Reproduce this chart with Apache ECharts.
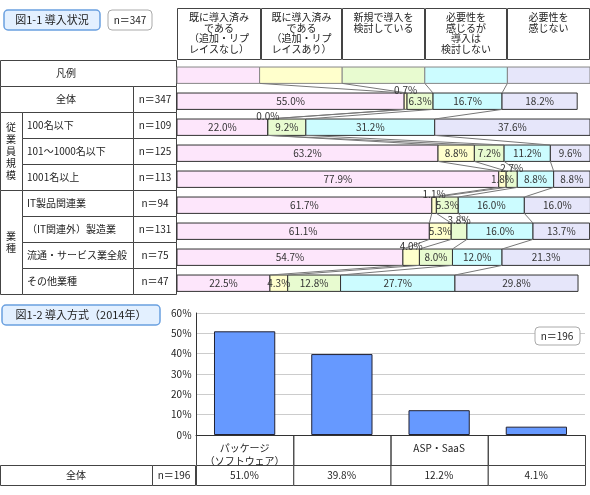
<!DOCTYPE html>
<html><head><meta charset="utf-8">
<script src="https://cdn.jsdelivr.net/npm/echarts@6/dist/echarts.min.js"></script>
<style>html,body{margin:0;padding:0;background:#fff}#c{width:590px;height:495px}</style>
</head><body><div id="c"></div>
<script>
const headers = ['既に導入済み\nである\n（追加・リプ\nレイスなし）','既に導入済み\nである\n（追加・リプ\nレイスあり）','新規で導入を\n検討している','必要性を\n感じるが\n導入は\n検討しない','必要性を\n感じない'];
const rows = ['凡例','全体','100名以下','101～1000名以下','1001名以上','IT製品関連業','（IT関連外）製造業','流通・サービス業全般','その他業種'];
const nLabels = ['','n＝347','n＝109','n＝125','n＝113','n＝94','n＝131','n＝75','n＝47'];
const s1 = [20, 55.0, 22.0, 63.2, 77.9, 61.7, 61.1, 54.7, 22.5];
const s2 = [20, 0.7, 0.0, 8.8, 1.8, 1.1, 5.3, 4.0, 4.3];
const s3 = [20, 6.3, 9.2, 7.2, 2.7, 5.3, 3.8, 8.0, 12.8];
const s4 = [20, 16.7, 31.2, 11.2, 8.8, 16.0, 16.0, 12.0, 27.7];
const s5 = [20, 18.2, 37.6, 9.6, 8.8, 16.0, 13.7, 21.3, 29.8];
const methods = ['パッケージ\n（ソフトウェア）','自社開発','ASP・SaaS','その他'];
const methodVals = [51.0, 39.8, 12.2, 4.1];
const yTicks = [0, 10, 20, 30, 40, 50, 60];

const colors = ['#fde6fb','#ffffcc','#e8fbd0','#ccfcff','#e6e6fa'];
const F = '"Noto Sans CJK JP", sans-serif';
const LC = '#444';
const allVals = rows.map((r,i)=>[s1[i],s2[i],s3[i],s4[i],s5[i]]);

const chart = echarts.init(document.getElementById('c'));
const g = [];
function rect(x,y,w,h,fill){g.push({type:'rect',shape:{x,y,width:w,height:h},style:{fill:fill||'#fff',stroke:LC,lineWidth:1},z:1});}
function txt(x,y,t,opt){g.push(Object.assign({type:'text',x,y,style:{text:t,font:'10px '+F,fill:'#222',textAlign:'center',textVerticalAlign:'middle'},z:5},opt||{}));}
// header
const hx=[177,261,342,425,507,590];
for(let k=0;k<5;k++){rect(hx[k]+0.5,8.5,hx[k+1]-hx[k]-1,51); g.push({type:'text',x:(hx[k]+hx[k+1])/2,y:12,style:{text:headers[k],font:'10px '+F,fill:'#222',textAlign:'center',textVerticalAlign:'top',lineHeight:10.5},z:5});}
// title boxes
g.push({type:'rect',shape:{x:4,y:10,width:96,height:20,r:4},style:{fill:'#e3f0ff',stroke:'#6aa0e0',lineWidth:1.5},z:2});
txt(52,20,'図1-1 導入状況',{style:{text:'図1-1 導入状況',font:'11px '+F,fill:'#222',textAlign:'center',textVerticalAlign:'middle'}});
g.push({type:'rect',shape:{x:108,y:10,width:44,height:20,r:4},style:{fill:'#fff',stroke:'#aaa',lineWidth:1},z:2});
txt(130,20,'n＝347');
// left table
const rh=26, t0=60;
rect(0.5,t0+0.5,176,rh); txt(66,t0+13,rows[0]);
rect(0.5,t0+rh+0.5,133,rh); txt(66,t0+rh+13,rows[1]); rect(133.5,t0+rh+0.5,43,rh); txt(155,t0+rh+13,nLabels[1]);
rect(0.5,t0+2*rh+0.5,22,3*rh); txt(11,t0+3.5*rh,'従\n業\n員\n規\n模',{style:{text:'従\n業\n員\n規\n模',font:'10px '+F,fill:'#222',textAlign:'center',textVerticalAlign:'middle',lineHeight:12}});
rect(0.5,t0+5*rh+0.5,22,4*rh); txt(11,t0+7*rh,'業\n種',{style:{text:'業\n種',font:'10px '+F,fill:'#222',textAlign:'center',textVerticalAlign:'middle',lineHeight:12}});
for(let i=2;i<9;i++){const y=t0+i*rh+0.5; rect(22.5,y,111,rh); rect(133.5,y,43,rh);
  g.push({type:'text',x:27,y:y+13,style:{text:rows[i],font:'10px '+F,fill:'#222',textAlign:'left',textVerticalAlign:'middle'},z:5});
  txt(155,y+13,nLabels[i]);}
// bottom chart parts
g.push({type:'rect',shape:{x:2,y:305,width:158,height:20,r:4},style:{fill:'#e3f0ff',stroke:'#6aa0e0',lineWidth:1.5},z:2});
txt(81,315,'図1-2 導入方式（2014年）',{style:{text:'図1-2 導入方式（2014年）',font:'11px '+F,fill:'#222',textAlign:'center',textVerticalAlign:'middle'}});
g.push({type:'rect',shape:{x:535,y:327,width:45,height:18,r:4},style:{fill:'#fff',stroke:'#aaa',lineWidth:1},z:6});
txt(557,336,'n＝196',{z:7});
const cx=[196,293.25,390.5,487.75,585];
for(let k=0;k<4;k++){rect(cx[k]+0.5,435.5,cx[k+1]-cx[k],30,'none'); rect(cx[k]+0.5,465.5,cx[k+1]-cx[k],20); txt((cx[k]+cx[k+1])/2,475.5,methodVals[k].toFixed(1)+'％');}
rect(0.5,465.5,152,20); txt(76,475.5,'全体'); rect(152.5,465.5,43,20); txt(174,475.5,'n＝196');

chart.setOption({
  animation:false,
  graphic:g,
  grid:[{left:177,right:0,top:60,height:234},{left:196,right:5,top:313,height:122}],
  xAxis:[{gridIndex:0,type:'value',min:0,max:100,show:false},
    {gridIndex:1,type:'category',data:methods,axisTick:{show:false},axisLine:{lineStyle:{color:'#333'}},
     axisLabel:{fontSize:10,fontFamily:F,color:'#222',lineHeight:13,margin:7,verticalAlign:'top'},z:10}],
  yAxis:[{gridIndex:0,type:'category',data:rows,inverse:true,show:false},
    {gridIndex:1,type:'value',min:0,max:60,interval:10,axisLine:{show:true,lineStyle:{color:'#333'}},
     axisLabel:{formatter:'{value}％',fontSize:10,fontFamily:F,color:'#222',margin:4},
     splitLine:{lineStyle:{color:'#ccc'}}}],
  series:[{
    type:'custom',xAxisIndex:0,yAxisIndex:0,
    data:rows.map((r,i)=>[i].concat(allVals[i])),
    renderItem:function(params,api){
      const i=params.dataIndex;
      const vals=[1,2,3,4,5].map(k=>api.value(k));
      const c=api.coord([0,i]); const band=api.size([0,1])[1];
      const top=c[1]-band/2, y0=top+band*0.27, y1=top+band*0.9;
      const ch=[]; let cum=0; const bx=[];
      vals.forEach((v,k)=>{
        const x0=api.coord([cum,i])[0], x1=api.coord([cum+v,i])[0];
        ch.push({type:'rect',shape:{x:x0,y:y0,width:x1-x0,height:y1-y0},style:{fill:colors[k],stroke:i===0?'#888':'#333',lineWidth:1}});
        if(i>0){
          const above=v<4.1 && !(k<4 && vals[k+1]<4.1);
          ch.push({type:'text',z2:10,style:{text:v.toFixed(1)+'%',x:(x0+x1)/2,y:above?top+band*0.16:(y0+y1)/2,font:'10px '+F,fill:'#333',align:'center',verticalAlign:'middle'}});
        }
        cum+=v; bx.push(x1);
      });
      if(i>0){
        const pv=allVals[i-1]; let pc=0;
        for(let k=0;k<4;k++){pc+=pv[k];
          const px=api.coord([pc,i-1])[0];
          ch.push({type:'line',shape:{x1:px,y1:top-band*0.1,x2:bx[k],y2:y0},style:{stroke:'#777',lineWidth:1}});
        }
      }
      return {type:'group',children:ch};
    }
  },{
    type:'bar',xAxisIndex:1,yAxisIndex:1,data:methodVals,barWidth:'63%',
    itemStyle:{color:'#6699ff',borderColor:'#223',borderWidth:1}
  }]
});
</script></body></html>
